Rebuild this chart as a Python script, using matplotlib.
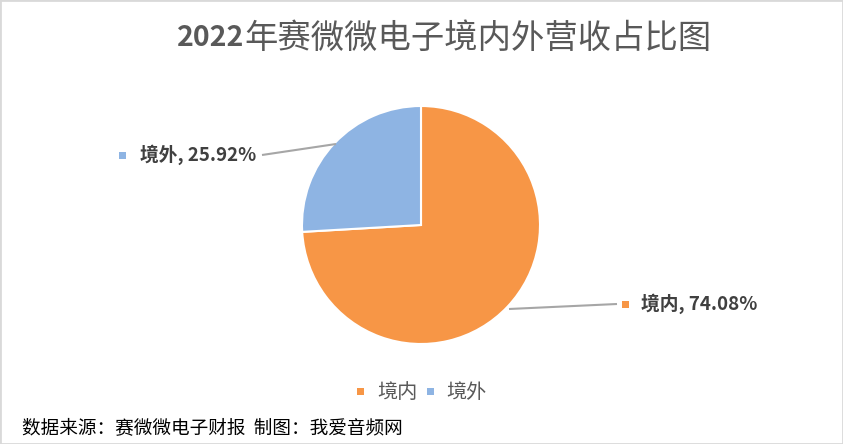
import matplotlib
matplotlib.use("Agg")
import matplotlib.pyplot as plt
from matplotlib.patches import Rectangle

plt.rcParams['font.family'] = ['Noto Sans CJK SC', 'DejaVu Sans']

title_year = "2022"
title_rest = "年赛微微电子境内外营收占比图"
categories = ["境内", "境外"]
values = [74.08, 25.92]
colors = ["#F79646", "#8EB4E3"]
source = "数据来源：赛微微电子财报  制图：我爱音频网"

W, H = 843, 444
fig = plt.figure(figsize=(W / 100, H / 100), dpi=100)
ax = fig.add_axes([0, 0, 1, 1])

cx, cy, r = 421, H - 225, 119
ax.pie(values, colors=colors, startangle=90, counterclock=False,
       center=(cx, cy), radius=r,
       wedgeprops=dict(edgecolor="white", linewidth=1.5))
ax.set_xlim(0, W)
ax.set_ylim(0, H)
ax.set_aspect("equal")
ax.axis("off")

def px(x, y):
    return x, H - y

# leader lines
ax.plot(*zip(px(509, 309), px(617, 304)), color="#A6A6A6", lw=1.5, solid_capstyle="butt")
ax.plot(*zip(px(262, 155), px(336, 144)), color="#A6A6A6", lw=1.5, solid_capstyle="butt")

lab_color = "#404040"
ax.add_patch(Rectangle(px(622, 308), 7, 7, color=colors[0], lw=0))
ax.text(*px(641, 304), f"{categories[0]}, {values[0]:.2f}%", fontsize=13.5, fontweight="bold",
        color=lab_color, ha="left", va="center")
ax.add_patch(Rectangle(px(119, 159), 7, 7, color=colors[1], lw=0))
ax.text(*px(140, 155), f"{categories[1]}, {values[1]:.2f}%", fontsize=13.5, fontweight="bold",
        color=lab_color, ha="left", va="center")

# legend
ax.add_patch(Rectangle(px(357, 395), 7, 7, color=colors[0], lw=0))
ax.text(*px(377, 392), categories[0], fontsize=14.5, color="#595959", ha="left", va="center")
ax.add_patch(Rectangle(px(427, 395), 7, 7, color=colors[1], lw=0))
ax.text(*px(446, 392), categories[1], fontsize=14.5, color="#595959", ha="left", va="center")

# title: bold year + regular rest
fig.canvas.draw()
renderer = fig.canvas.get_renderer()
t1 = ax.text(*px(177, 38), title_year, fontsize=20.5, fontweight="bold", color="#595959",
             ha="left", va="center")
bb = t1.get_window_extent(renderer)
t2 = ax.text(bb.x1, H - 38, title_rest, fontsize=24, fontweight="medium", color="#595959",
             ha="left", va="center")

# source
ax.text(*px(22, 428), source, fontsize=13.4, color="black", ha="left", va="center")

# border
fig.patches.append(Rectangle((0, 0), 1, 1, transform=fig.transFigure, fill=False,
                             edgecolor="#D9D9D9", lw=2))

fig.savefig("out.png", dpi=100)
